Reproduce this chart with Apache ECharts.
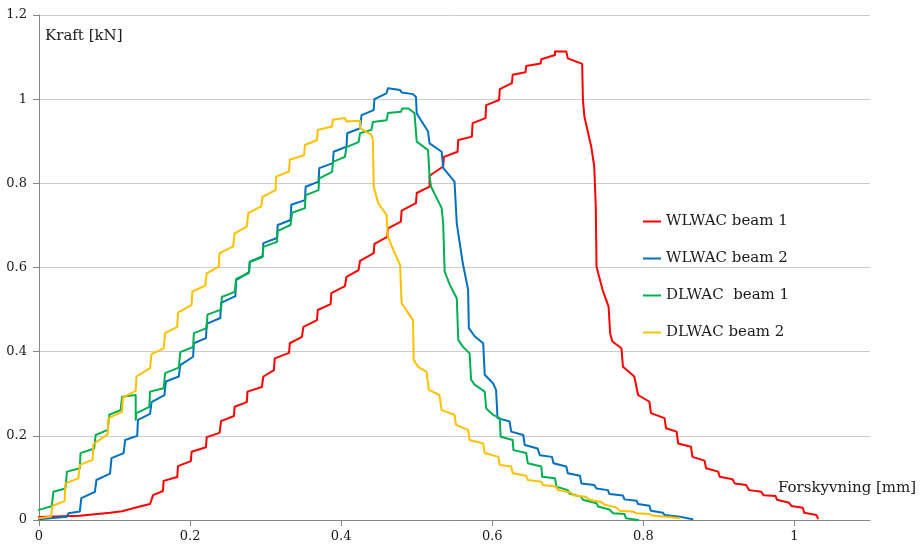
<!DOCTYPE html>
<html>
<head>
<meta charset="utf-8">
<script src="https://cdn.jsdelivr.net/npm/echarts@6/dist/echarts.min.js"></script>
<style>
html,body{margin:0;padding:0;background:#fff;}
#chart{width:922px;height:548px;}
</style>
</head>
<body>
<div id="chart"></div>
<script>
// ---- data (x: Forskyvning [mm], y: Kraft [kN]) ----
const seriesNames = ['WLWAC beam 1', 'WLWAC beam 2', 'DLWAC  beam 1', 'DLWAC beam 2'];
const xTicks = [0, 0.2, 0.4, 0.6, 0.8, 1];
const yTicks = [0, 0.2, 0.4, 0.6, 0.8, 1, 1.2];

const wlwac1 = [
 [0,0.007],[0.054,0.010],[0.094,0.017],[0.110,0.021],[0.127,0.029],[0.147,0.038],[0.151,0.059],
 [0.164,0.069],[0.165,0.093],[0.183,0.102],[0.184,0.128],[0.201,0.140],[0.202,0.162],[0.221,0.173],
 [0.222,0.197],[0.239,0.207],[0.241,0.235],[0.258,0.247],[0.259,0.269],[0.275,0.280],[0.276,0.305],
 [0.295,0.316],[0.297,0.341],[0.311,0.356],[0.312,0.384],[0.331,0.397],[0.332,0.420],[0.348,0.435],
 [0.350,0.459],[0.368,0.475],[0.369,0.499],[0.386,0.513],[0.387,0.539],[0.405,0.556],[0.407,0.578],
 [0.423,0.594],[0.425,0.616],[0.443,0.634],[0.444,0.656],[0.461,0.673],[0.462,0.693],[0.479,0.709],
 [0.480,0.735],[0.499,0.753],[0.500,0.777],[0.517,0.792],[0.517,0.818],[0.535,0.840],[0.536,0.863],
 [0.554,0.875],[0.555,0.903],[0.573,0.911],[0.574,0.943],[0.591,0.955],[0.592,0.986],[0.609,0.998],
 [0.610,1.024],[0.626,1.038],[0.627,1.058],[0.644,1.064],[0.645,1.079],[0.664,1.085],[0.665,1.095],
 [0.683,1.105],[0.683,1.113],[0.698,1.113],[0.700,1.097],[0.719,1.084],[0.720,0.998],[0.722,0.958],
 [0.731,0.887],[0.735,0.840],[0.737,0.745],[0.738,0.602],[0.746,0.547],[0.754,0.507],[0.756,0.444],
 [0.759,0.424],[0.771,0.408],[0.773,0.364],[0.788,0.341],[0.793,0.297],[0.808,0.281],[0.810,0.254],
 [0.828,0.242],[0.830,0.218],[0.844,0.210],[0.846,0.182],[0.863,0.174],[0.865,0.150],[0.881,0.141],
 [0.883,0.123],[0.899,0.115],[0.901,0.103],[0.918,0.097],[0.921,0.087],[0.936,0.083],[0.940,0.071],
 [0.956,0.067],[0.959,0.059],[0.975,0.057],[0.977,0.048],[0.993,0.041],[0.996,0.033],[1.011,0.029],
 [1.013,0.017],[1.029,0.012],[1.031,0.004]
];

const wlwac2 = [
 [0,0.002],[0.037,0.008],[0.039,0.016],[0.054,0.020],[0.056,0.052],[0.074,0.067],[0.076,0.095],
 [0.094,0.110],[0.096,0.147],[0.112,0.159],[0.114,0.190],[0.130,0.200],[0.131,0.238],[0.147,0.252],
 [0.149,0.280],[0.166,0.297],[0.168,0.329],[0.185,0.341],[0.187,0.368],[0.204,0.388],[0.205,0.420],
 [0.221,0.432],[0.222,0.466],[0.240,0.480],[0.241,0.516],[0.260,0.532],[0.261,0.570],[0.278,0.589],
 [0.279,0.614],[0.296,0.627],[0.297,0.658],[0.315,0.670],[0.316,0.701],[0.333,0.713],[0.334,0.749],
 [0.352,0.760],[0.353,0.792],[0.370,0.804],[0.371,0.836],[0.389,0.848],[0.390,0.875],[0.407,0.887],
 [0.408,0.919],[0.425,0.931],[0.427,0.962],[0.443,0.974],[0.444,1.000],[0.460,1.014],[0.462,1.026],
 [0.478,1.022],[0.480,1.016],[0.495,1.012],[0.499,1.005],[0.500,0.966],[0.515,0.923],[0.517,0.895],
 [0.533,0.875],[0.535,0.837],[0.550,0.804],[0.553,0.705],[0.561,0.610],[0.568,0.547],[0.569,0.456],
 [0.577,0.436],[0.588,0.420],[0.590,0.345],[0.601,0.325],[0.605,0.309],[0.607,0.242],[0.623,0.234],
 [0.625,0.210],[0.641,0.202],[0.643,0.178],[0.660,0.170],[0.663,0.154],[0.679,0.150],[0.681,0.135],
 [0.698,0.127],[0.700,0.111],[0.716,0.105],[0.718,0.087],[0.735,0.083],[0.738,0.075],[0.753,0.071],
 [0.755,0.062],[0.773,0.058],[0.775,0.049],[0.791,0.046],[0.793,0.038],[0.808,0.034],[0.810,0.022],
 [0.826,0.017],[0.828,0.012],[0.848,0.008],[0.865,0.002]
];

const dlwac1 = [
 [0,0.024],[0.017,0.033],[0.019,0.067],[0.035,0.075],[0.037,0.115],[0.054,0.123],[0.055,0.159],
 [0.073,0.170],[0.075,0.202],[0.091,0.214],[0.093,0.250],[0.108,0.261],[0.110,0.293],[0.128,0.297],
 [0.128,0.238],[0.129,0.254],[0.146,0.269],[0.147,0.305],[0.165,0.313],[0.167,0.349],[0.185,0.362],
 [0.187,0.399],[0.204,0.411],[0.205,0.444],[0.222,0.456],[0.223,0.488],[0.241,0.500],[0.242,0.530],
 [0.259,0.542],[0.261,0.573],[0.278,0.587],[0.279,0.613],[0.296,0.625],[0.297,0.649],[0.315,0.661],
 [0.316,0.687],[0.333,0.701],[0.335,0.730],[0.352,0.741],[0.353,0.772],[0.370,0.784],[0.371,0.812],
 [0.388,0.827],[0.389,0.851],[0.405,0.863],[0.407,0.886],[0.423,0.898],[0.425,0.919],[0.440,0.927],
 [0.442,0.946],[0.460,0.950],[0.462,0.967],[0.479,0.970],[0.481,0.978],[0.489,0.978],[0.497,0.967],
 [0.500,0.899],[0.515,0.879],[0.517,0.816],[0.519,0.792],[0.533,0.741],[0.535,0.705],[0.537,0.590],
 [0.544,0.558],[0.553,0.527],[0.555,0.428],[0.561,0.412],[0.570,0.396],[0.572,0.333],[0.577,0.321],
 [0.590,0.305],[0.592,0.265],[0.601,0.250],[0.610,0.242],[0.611,0.198],[0.627,0.190],[0.628,0.166],
 [0.645,0.159],[0.647,0.135],[0.665,0.127],[0.666,0.103],[0.683,0.099],[0.685,0.079],[0.700,0.071],
 [0.702,0.063],[0.718,0.055],[0.720,0.048],[0.738,0.040],[0.740,0.032],[0.755,0.025],[0.760,0.016],
 [0.775,0.014],[0.777,0.004],[0.793,0]
];

const dlwac2 = [
 [0,0.004],[0.016,0.008],[0.018,0.034],[0.034,0.045],[0.035,0.087],[0.052,0.099],[0.054,0.131],
 [0.071,0.143],[0.072,0.180],[0.091,0.204],[0.092,0.242],[0.110,0.257],[0.111,0.291],[0.128,0.307],
 [0.129,0.341],[0.147,0.361],[0.149,0.394],[0.165,0.408],[0.167,0.444],[0.183,0.459],[0.184,0.493],
 [0.202,0.511],[0.203,0.543],[0.220,0.557],[0.222,0.586],[0.238,0.602],[0.239,0.634],[0.257,0.650],
 [0.259,0.681],[0.275,0.697],[0.277,0.729],[0.294,0.745],[0.296,0.768],[0.313,0.784],[0.314,0.816],
 [0.331,0.828],[0.332,0.856],[0.351,0.867],[0.352,0.891],[0.368,0.903],[0.369,0.927],[0.388,0.935],
 [0.389,0.951],[0.405,0.955],[0.407,0.947],[0.425,0.949],[0.425,0.931],[0.440,0.915],[0.442,0.903],
 [0.443,0.792],[0.449,0.753],[0.460,0.725],[0.462,0.673],[0.469,0.642],[0.478,0.606],[0.480,0.515],
 [0.489,0.491],[0.495,0.475],[0.496,0.380],[0.502,0.364],[0.513,0.352],[0.516,0.309],[0.530,0.297],
 [0.533,0.261],[0.550,0.250],[0.552,0.226],[0.568,0.214],[0.570,0.190],[0.588,0.182],[0.590,0.159],
 [0.608,0.150],[0.610,0.131],[0.625,0.127],[0.627,0.111],[0.645,0.105],[0.647,0.095],[0.665,0.091],
 [0.667,0.083],[0.685,0.079],[0.687,0.071],[0.705,0.065],[0.707,0.059],[0.724,0.055],[0.729,0.048],
 [0.744,0.043],[0.749,0.036],[0.764,0.030],[0.769,0.022],[0.786,0.020],[0.791,0.016],[0.808,0.014],
 [0.813,0.010],[0.830,0.008],[0.848,0.004]
];

const seriesData = [wlwac1, wlwac2, dlwac1, dlwac2];
const seriesColors = ['#FF0000', '#0070C0', '#00B050', '#FFC000'];

const FONT = 'DejaVu Serif';
const chart = echarts.init(document.getElementById('chart'), null, {renderer: 'canvas'});
chart.setOption({
  animation: false,
  backgroundColor: '#ffffff',
  textStyle: {fontFamily: FONT},
  grid: {left: 39, right: 52, top: 15, bottom: 28, containLabel: false},
  legend: {
    orient: 'vertical',
    left: 638,
    top: 209,
    itemWidth: 18,
    itemHeight: 14,
    itemGap: 22,
    icon: 'path://M0,6 L18,6 L18,8 L0,8 Z',
    textStyle: {fontFamily: FONT, fontSize: 15, color: '#1a1a1a'},
    data: seriesNames
  },
  xAxis: {
    type: 'value', min: 0, max: 1.1,
    axisLine: {show: true, lineStyle: {color: '#868686', width: 1}},
    axisTick: {show: true, length: 6, lineStyle: {color: '#868686'}, customValues: xTicks},
    axisLabel: {fontFamily: FONT, fontSize: 13, color: '#1a1a1a', margin: 10, customValues: xTicks,
      formatter: v => String(v)},
    splitLine: {show: false}
  },
  yAxis: {
    type: 'value', min: 0, max: 1.2, interval: 0.2,
    axisLine: {show: true, lineStyle: {color: '#868686', width: 1}},
    axisTick: {show: true, length: 6, lineStyle: {color: '#868686'}},
    axisLabel: {fontFamily: FONT, fontSize: 13, color: '#1a1a1a', margin: 12,
      formatter: v => String(Math.round(v * 10) / 10)},
    splitLine: {show: true, lineStyle: {color: '#cccccc', width: 1}}
  },
  graphic: [
    {type: 'text', left: 45, top: 29, style: {text: 'Kraft [kN]', font: '15px "' + FONT + '"', fill: '#1a1a1a'}},
    {type: 'text', left: 778, top: 481, style: {text: 'Forskyvning [mm]', font: '15px "' + FONT + '"', fill: '#1a1a1a'}}
  ],
  series: seriesNames.map((name, i) => ({
    name: name,
    type: 'line',
    data: seriesData[i],
    symbol: 'none',
    smooth: false,
    lineStyle: {color: seriesColors[i], width: 2, join: 'round', cap: 'round'},
    itemStyle: {color: seriesColors[i]}
  }))
});
</script>
</body>
</html>
